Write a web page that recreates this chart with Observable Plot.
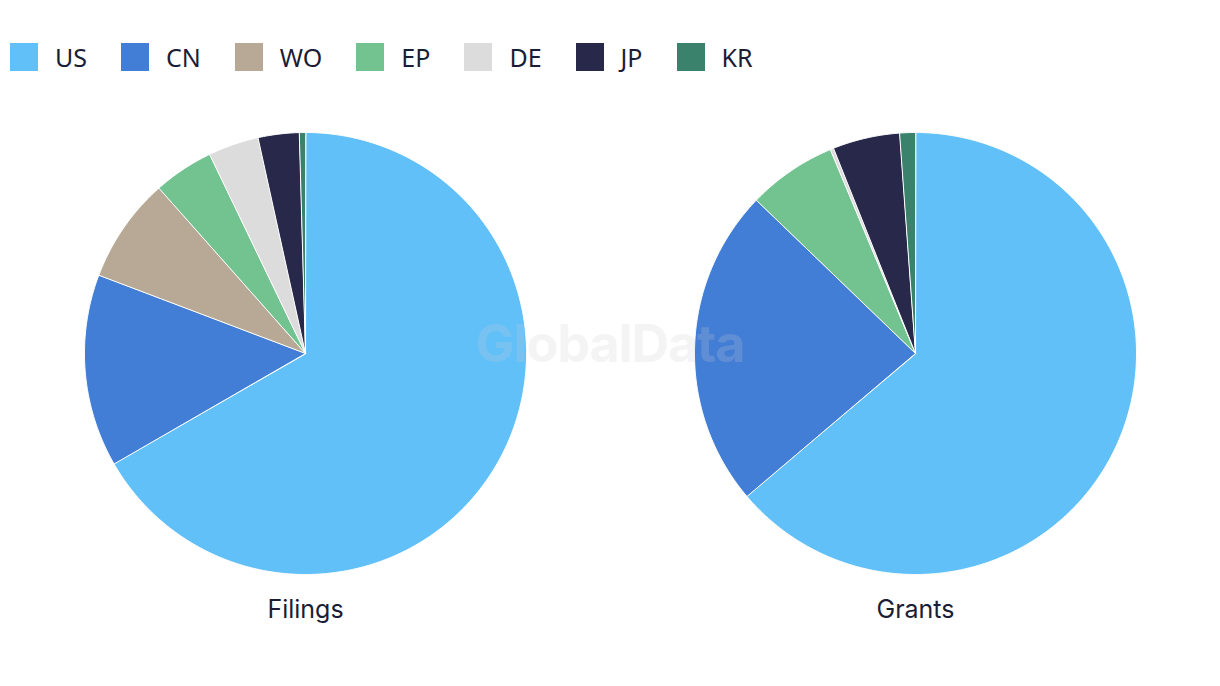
<!DOCTYPE html>
<html><head><meta charset="utf-8">
<script src="https://cdn.jsdelivr.net/npm/d3@7"></script>
<script src="https://cdn.jsdelivr.net/npm/@observablehq/plot@0.6"></script>
<style>
body{margin:0;background:#fff;font-family:Inter,"Noto Sans",sans-serif;color:#1b1d36;}
#wrap{position:relative;width:1220px;height:686px;overflow:hidden;}
#legend{position:absolute;left:10px;top:40px;}
#legend [class$="-swatch"]{margin-right:34px !important;font-size:25px;color:#1b1d36;line-height:28px;}
#legend [class$="-swatch"] > svg{margin-right:17px !important;}
#plot{position:absolute;left:0;top:100px;}
#wm{position:absolute;left:0;width:1220px;top:312px;text-align:center;font:700 52px Inter,sans-serif;letter-spacing:-1.1px;color:#cdcdcd;opacity:0.2;pointer-events:none;}
</style></head><body><div id="wrap"><div id="legend"></div><div id="plot"></div><div id="wm">GlobalData</div></div>
<script>
const charts = ["Filings", "Grants"];
const categories = ["US", "CN", "WO", "EP", "DE", "JP", "KR"];
const colors = ["#62c0f9", "#437ed6", "#b7a995", "#73c391", "#dcdcdc", "#28284a", "#3a826b"];
const filings = [66.7, 14.1, 7.7, 4.4, 3.7, 3.0, 0.45];
const grants = [63.8, 23.4, 0, 6.5, 0.25, 4.9, 1.15];

const seriesByChart = {Filings: filings, Grants: grants};
const rows = [];
for (const chart of charts) {
  const arcs = d3.pie().sort(null).value(d => d)(seriesByChart[chart]);
  arcs.forEach((a, i) => {
    if (a.value <= 0) return;
    const cat = categories[i];
    rows.push({chart, cat, x: 0, y: 0});
    const n = Math.max(2, Math.ceil((a.endAngle - a.startAngle) / (Math.PI / 360)));
    for (let k = 0; k <= n; k++) {
      const t = a.startAngle + (a.endAngle - a.startAngle) * k / n;
      rows.push({chart, cat, x: Math.sin(t), y: Math.cos(t)});
    }
  });
}

const plot = Plot.plot({
  width: 1220,
  height: 540,
  marginLeft: 0, marginRight: 0, marginTop: 0, marginBottom: 50,
  style: {fontSize: "25px", fontFamily: "Inter, sans-serif", color: "#1b1d36", background: "transparent"},
  fx: {domain: charts, padding: 0, label: null, axis: "bottom", tickSize: 0, tickPadding: 10},
  x: {domain: [-1.38, 1.38], axis: null},
  y: {domain: [-1.0724, 1.1448], axis: null},
  color: {domain: categories, range: colors},
  marks: [
    Plot.line(rows, {x: "x", y: "y", z: "cat", fx: "chart", fill: "cat", stroke: "white", strokeWidth: 1, curve: "linear-closed"})
  ]
});
document.getElementById("plot").appendChild(plot);

const legend = Plot.legend({color: {type: "ordinal", domain: categories, range: colors}, swatchSize: 28});
document.getElementById("legend").appendChild(legend);
</script></body></html>
